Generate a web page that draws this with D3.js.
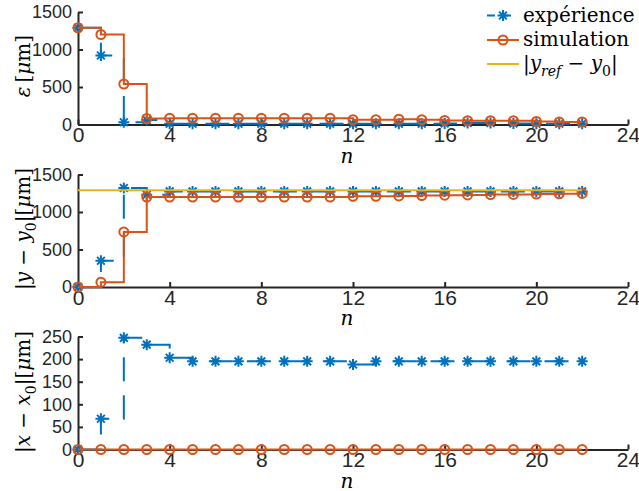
<!DOCTYPE html>
<html><head><meta charset="utf-8">
<script src="https://cdn.jsdelivr.net/npm/d3@7"></script>
<style>body{margin:0;background:#fff}svg text{white-space:pre}</style>
</head><body><svg id="c" width="639" height="491"></svg>
<script>
// ---------- data ----------
const nVals = [0,1,2,3,4,5,6,7,8,9,10,11,12,13,14,15,16,17,18,19,20,21,22];
const xTicks = [0,4,8,12,16,20,24];
const epsTicks = [0,500,1000,1500];
const dyTicks = [0,500,1000,1500];
const dxTicks = [0,50,100,150,200,250];

const epsExp = [1290,920,30,60,10,10,10,10,10,10,10,10,10,10,10,10,15,20,20,15,10,10,10];
const epsSim = [1290,1200,540,80,85,85,85,85,85,85,85,85,65,65,70,65,55,50,50,50,40,35,35];

const dyExp = [0,350,1320,1230,1275,1275,1275,1275,1275,1275,1275,1275,1275,1275,1275,1275,1275,1275,1275,1275,1275,1275,1275];
const dySim = [0,65,735,1200,1200,1200,1200,1200,1200,1200,1200,1200,1210,1210,1215,1220,1225,1228,1232,1235,1240,1242,1248];
const yRefVal = 1290;

const dxExp = [0,68,247,232,203,195,195,195,195,195,195,195,188,195,195,195,195,195,195,195,195,195,195];
const dxSim = [0,0,0,0,0,0,0,0,0,0,0,0,0,0,0,0,0,0,0,0,0,0,0];

const legendLabels = ["expérience","simulation"];

// ---------- style ----------
const C_BLUE = "#0072BD", C_ORANGE = "#D95319", C_YELLOW = "#EDB120", C_AX = "#262626";
const SERIF = "'DejaVu Serif', serif";
const SANS = "'Liberation Sans', Arial, sans-serif";

const svg = d3.select("#c");
const x = d3.scaleLinear().domain([0,24]).range([78,628]);

const panels = [
  {y0:124.5, y1:12, dom:[0,1500], ticks:epsTicks, exp:epsExp, sim:epsSim, ref:null,
   label:[{t:"ε",i:1},{t:"\u2009["},{t:"μ",i:1},{t:"m]"}], lx:30, ly:66},
  {y0:287, y1:174.5, dom:[0,1500], ticks:dyTicks, exp:dyExp, sim:dySim, ref:yRefVal,
   label:[{t:"|"},{t:"y",i:1},{t:" − "},{t:"y",i:1},{t:"0",s:1},{t:"|[" },{t:"μ",i:1},{t:"m]"}], lx:30, ly:229},
  {y0:449.5, y1:336.5, dom:[0,250], ticks:dxTicks, exp:dxExp, sim:dxSim, ref:null,
   label:[{t:"|"},{t:"x",i:1},{t:" − "},{t:"x",i:1},{t:"0",s:1},{t:"|[" },{t:"μ",i:1},{t:"m]"}], lx:30, ly:392}
];

function mathText(sel, parts, size){
  let shift = 0;
  parts.forEach(p=>{
    const ts = sel.append("tspan").text(p.t);
    const target = p.s ? size*0.3 : 0;
    if (target !== shift){ ts.attr("dy", target-shift); shift = target; }
    if (p.i) ts.attr("font-style","italic");
    if (p.s) ts.attr("font-size", size*0.7);
  });
}

function starPath(r){
  const d = r*0.7071;
  return `M${-r},0L${r},0M0,${-r}L0,${r}M${-d},${-d}L${d},${d}M${-d},${d}L${d},${-d}`;
}

panels.forEach(p=>{
  const y = d3.scaleLinear().domain(p.dom).range([p.y0,p.y1]);
  const g = svg.append("g");

  // axes
  const xa = g.append("g").attr("transform",`translate(0,${p.y0})`)
    .call(d3.axisBottom(x).tickValues(xTicks).tickFormat(d3.format("d")).tickSizeInner(-5).tickSizeOuter(0).tickPadding(3));
  xa.selectAll("text").attr("font-family",SANS).attr("font-size",21).attr("fill",C_AX);
  const ya = g.append("g").attr("transform",`translate(${x(0)},0)`)
    .call(d3.axisLeft(y).tickValues(p.ticks).tickFormat(d3.format("d")).tickSizeInner(-5).tickSizeOuter(0).tickPadding(6));
  ya.selectAll("text").attr("font-family",SANS).attr("font-size",18).attr("fill",C_AX);
  g.selectAll(".domain").attr("stroke",C_AX).attr("stroke-width",2);
  g.selectAll(".tick line").attr("stroke",C_AX).attr("stroke-width",2);

  const line = d3.line().x((d,i)=>x(nVals[i])).y(d=>y(d)).curve(d3.curveStepAfter);

  // experience
  g.append("path").datum(p.exp).attr("d",line).attr("fill","none")
    .attr("stroke",C_BLUE).attr("stroke-width",2).attr("stroke-dasharray","24,14");
  g.selectAll(".st").data(p.exp).enter().append("path")
    .attr("transform",(d,i)=>`translate(${x(nVals[i])},${y(d)})`)
    .attr("d",starPath(5.5)).attr("stroke",C_BLUE).attr("stroke-width",2).attr("fill","none");

  // simulation
  g.append("path").datum(p.sim).attr("d",line).attr("fill","none")
    .attr("stroke",C_ORANGE).attr("stroke-width",2);
  g.selectAll(".ci").data(p.sim).enter().append("circle")
    .attr("cx",(d,i)=>x(nVals[i])).attr("cy",d=>y(d)).attr("r",4.5)
    .attr("fill","none").attr("stroke",C_ORANGE).attr("stroke-width",2);

  // reference
  if (p.ref !== null){
    g.append("line").attr("x1",x(nVals[0])).attr("x2",x(nVals[nVals.length-1]))
      .attr("y1",y(p.ref)).attr("y2",y(p.ref)).attr("stroke",C_YELLOW).attr("stroke-width",2);
  }

  // x label
  g.append("text").attr("x",347).attr("y",p.y0+38).attr("text-anchor","middle")
    .attr("font-family",SERIF).attr("font-style","italic").attr("font-size",20).attr("fill","#000").text("n");

  // y label
  const t = g.append("text").attr("transform",`translate(${p.lx},${p.ly}) rotate(-90)`)
    .attr("text-anchor","middle").attr("font-family",SERIF).attr("font-size",20).attr("fill","#000");
  mathText(t, p.label, 20);
});

// legend
const lg = svg.append("g");
const lgY = [15.5, 40, 64];
const lx0 = 487, lx1 = 519, ltx = 523;
// entry 1
lg.append("line").attr("x1",lx0).attr("x2",lx1).attr("y1",lgY[0]).attr("y2",lgY[0])
  .attr("stroke",C_BLUE).attr("stroke-width",2).attr("stroke-dasharray","8,8");
lg.append("path").attr("transform",`translate(${(lx0+lx1)/2},${lgY[0]})`).attr("d",starPath(5.5))
  .attr("stroke",C_BLUE).attr("stroke-width",2);
// entry 2
lg.append("line").attr("x1",lx0).attr("x2",lx1).attr("y1",lgY[1]).attr("y2",lgY[1])
  .attr("stroke",C_ORANGE).attr("stroke-width",2);
lg.append("circle").attr("cx",(lx0+lx1)/2).attr("cy",lgY[1]).attr("r",4.5)
  .attr("fill","none").attr("stroke",C_ORANGE).attr("stroke-width",2);
// entry 3
lg.append("line").attr("x1",lx0).attr("x2",lx1).attr("y1",lgY[2]).attr("y2",lgY[2])
  .attr("stroke",C_YELLOW).attr("stroke-width",2);

legendLabels.forEach((s,i)=>{
  lg.append("text").attr("x",ltx).attr("y",lgY[i]+6).attr("font-family",SERIF)
    .attr("font-size",20).attr("fill","#000").text(s);
});
const t3 = lg.append("text").attr("x",ltx).attr("y",lgY[2]+6).attr("font-family",SERIF)
  .attr("font-size",20).attr("fill","#000");
mathText(t3,[{t:"|"},{t:"y",i:1},{t:"ref",i:1,s:1},{t:" − "},{t:"y",i:1},{t:"0",s:1},{t:"|"}],20);
</script></body></html>
